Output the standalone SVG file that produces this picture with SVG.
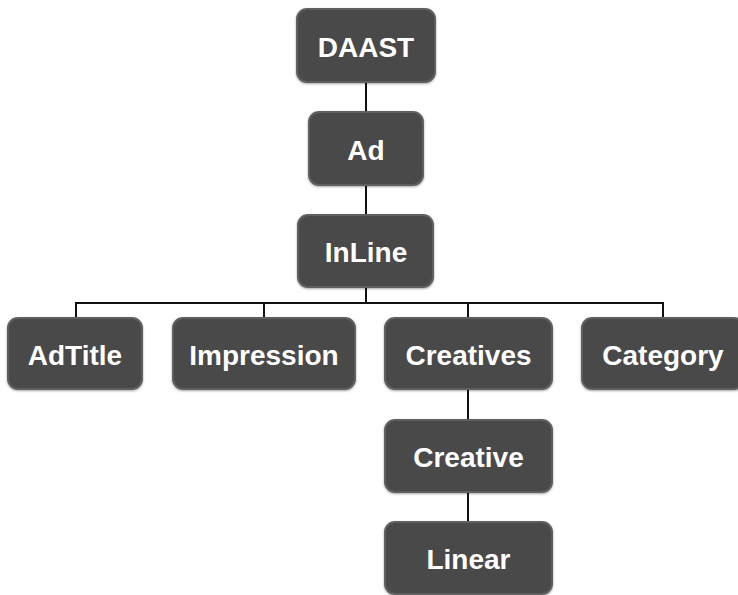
<svg xmlns="http://www.w3.org/2000/svg" width="738" height="595" viewBox="0 0 738 595">
<defs>
<style>
.box{fill:#4a4a4a;stroke:#5f5f5f;stroke-width:2}
.lbl{font-family:"Liberation Sans",Arial,sans-serif;font-weight:bold;font-size:28px;fill:#ffffff;text-anchor:middle}
.con{stroke:#111111;stroke-width:2;fill:none}
</style>
<filter id="sh" x="-10%" y="-10%" width="120%" height="130%">
<feDropShadow dx="0" dy="1" stdDeviation="1.2" flood-color="#000" flood-opacity="0.35"/>
</filter>
</defs>
<rect width="738" height="595" fill="#ffffff"/>
<g id="connectors">
<line class="con" x1="366" y1="82" x2="366" y2="112"/>
<line class="con" x1="366" y1="185" x2="366" y2="215"/>
<line class="con" x1="366" y1="287" x2="366" y2="303"/>
<polyline class="con" points="76,318 76,303 663,303 663,318"/>
<line class="con" x1="264" y1="303" x2="264" y2="318"/>
<line class="con" x1="468" y1="303" x2="468" y2="318"/>
<line class="con" x1="468" y1="389" x2="468" y2="420"/>
<line class="con" x1="468" y1="492" x2="468" y2="522"/>
</g>
<g id="daast"><rect class="box" filter="url(#sh)" x="297" y="9" width="138" height="73" rx="10"/><text class="lbl" x="366" y="57">DAAST</text></g>
<g id="ad"><rect class="box" filter="url(#sh)" x="309" y="112" width="114" height="73" rx="10"/><text class="lbl" x="366" y="160">Ad</text></g>
<g id="inline"><rect class="box" filter="url(#sh)" x="298" y="215" width="135" height="72" rx="10"/><text class="lbl" x="366" y="262">InLine</text></g>
<g id="adtitle"><rect class="box" filter="url(#sh)" x="8" y="318" width="134" height="71" rx="10"/><text class="lbl" x="75" y="365">AdTitle</text></g>
<g id="impression"><rect class="box" filter="url(#sh)" x="173" y="318" width="182" height="71" rx="10"/><text class="lbl" x="264" y="365">Impression</text></g>
<g id="creatives"><rect class="box" filter="url(#sh)" x="385" y="318" width="167" height="71" rx="10"/><text class="lbl" x="468.5" y="365">Creatives</text></g>
<g id="category"><rect class="box" filter="url(#sh)" x="582" y="318" width="162" height="71" rx="10"/><text class="lbl" x="663" y="365">Category</text></g>
<g id="creative"><rect class="box" filter="url(#sh)" x="385" y="420" width="167" height="72" rx="10"/><text class="lbl" x="468.5" y="467">Creative</text></g>
<g id="linear"><rect class="box" filter="url(#sh)" x="385" y="522" width="167" height="72" rx="10"/><text class="lbl" x="468.5" y="569">Linear</text></g>
</svg>
